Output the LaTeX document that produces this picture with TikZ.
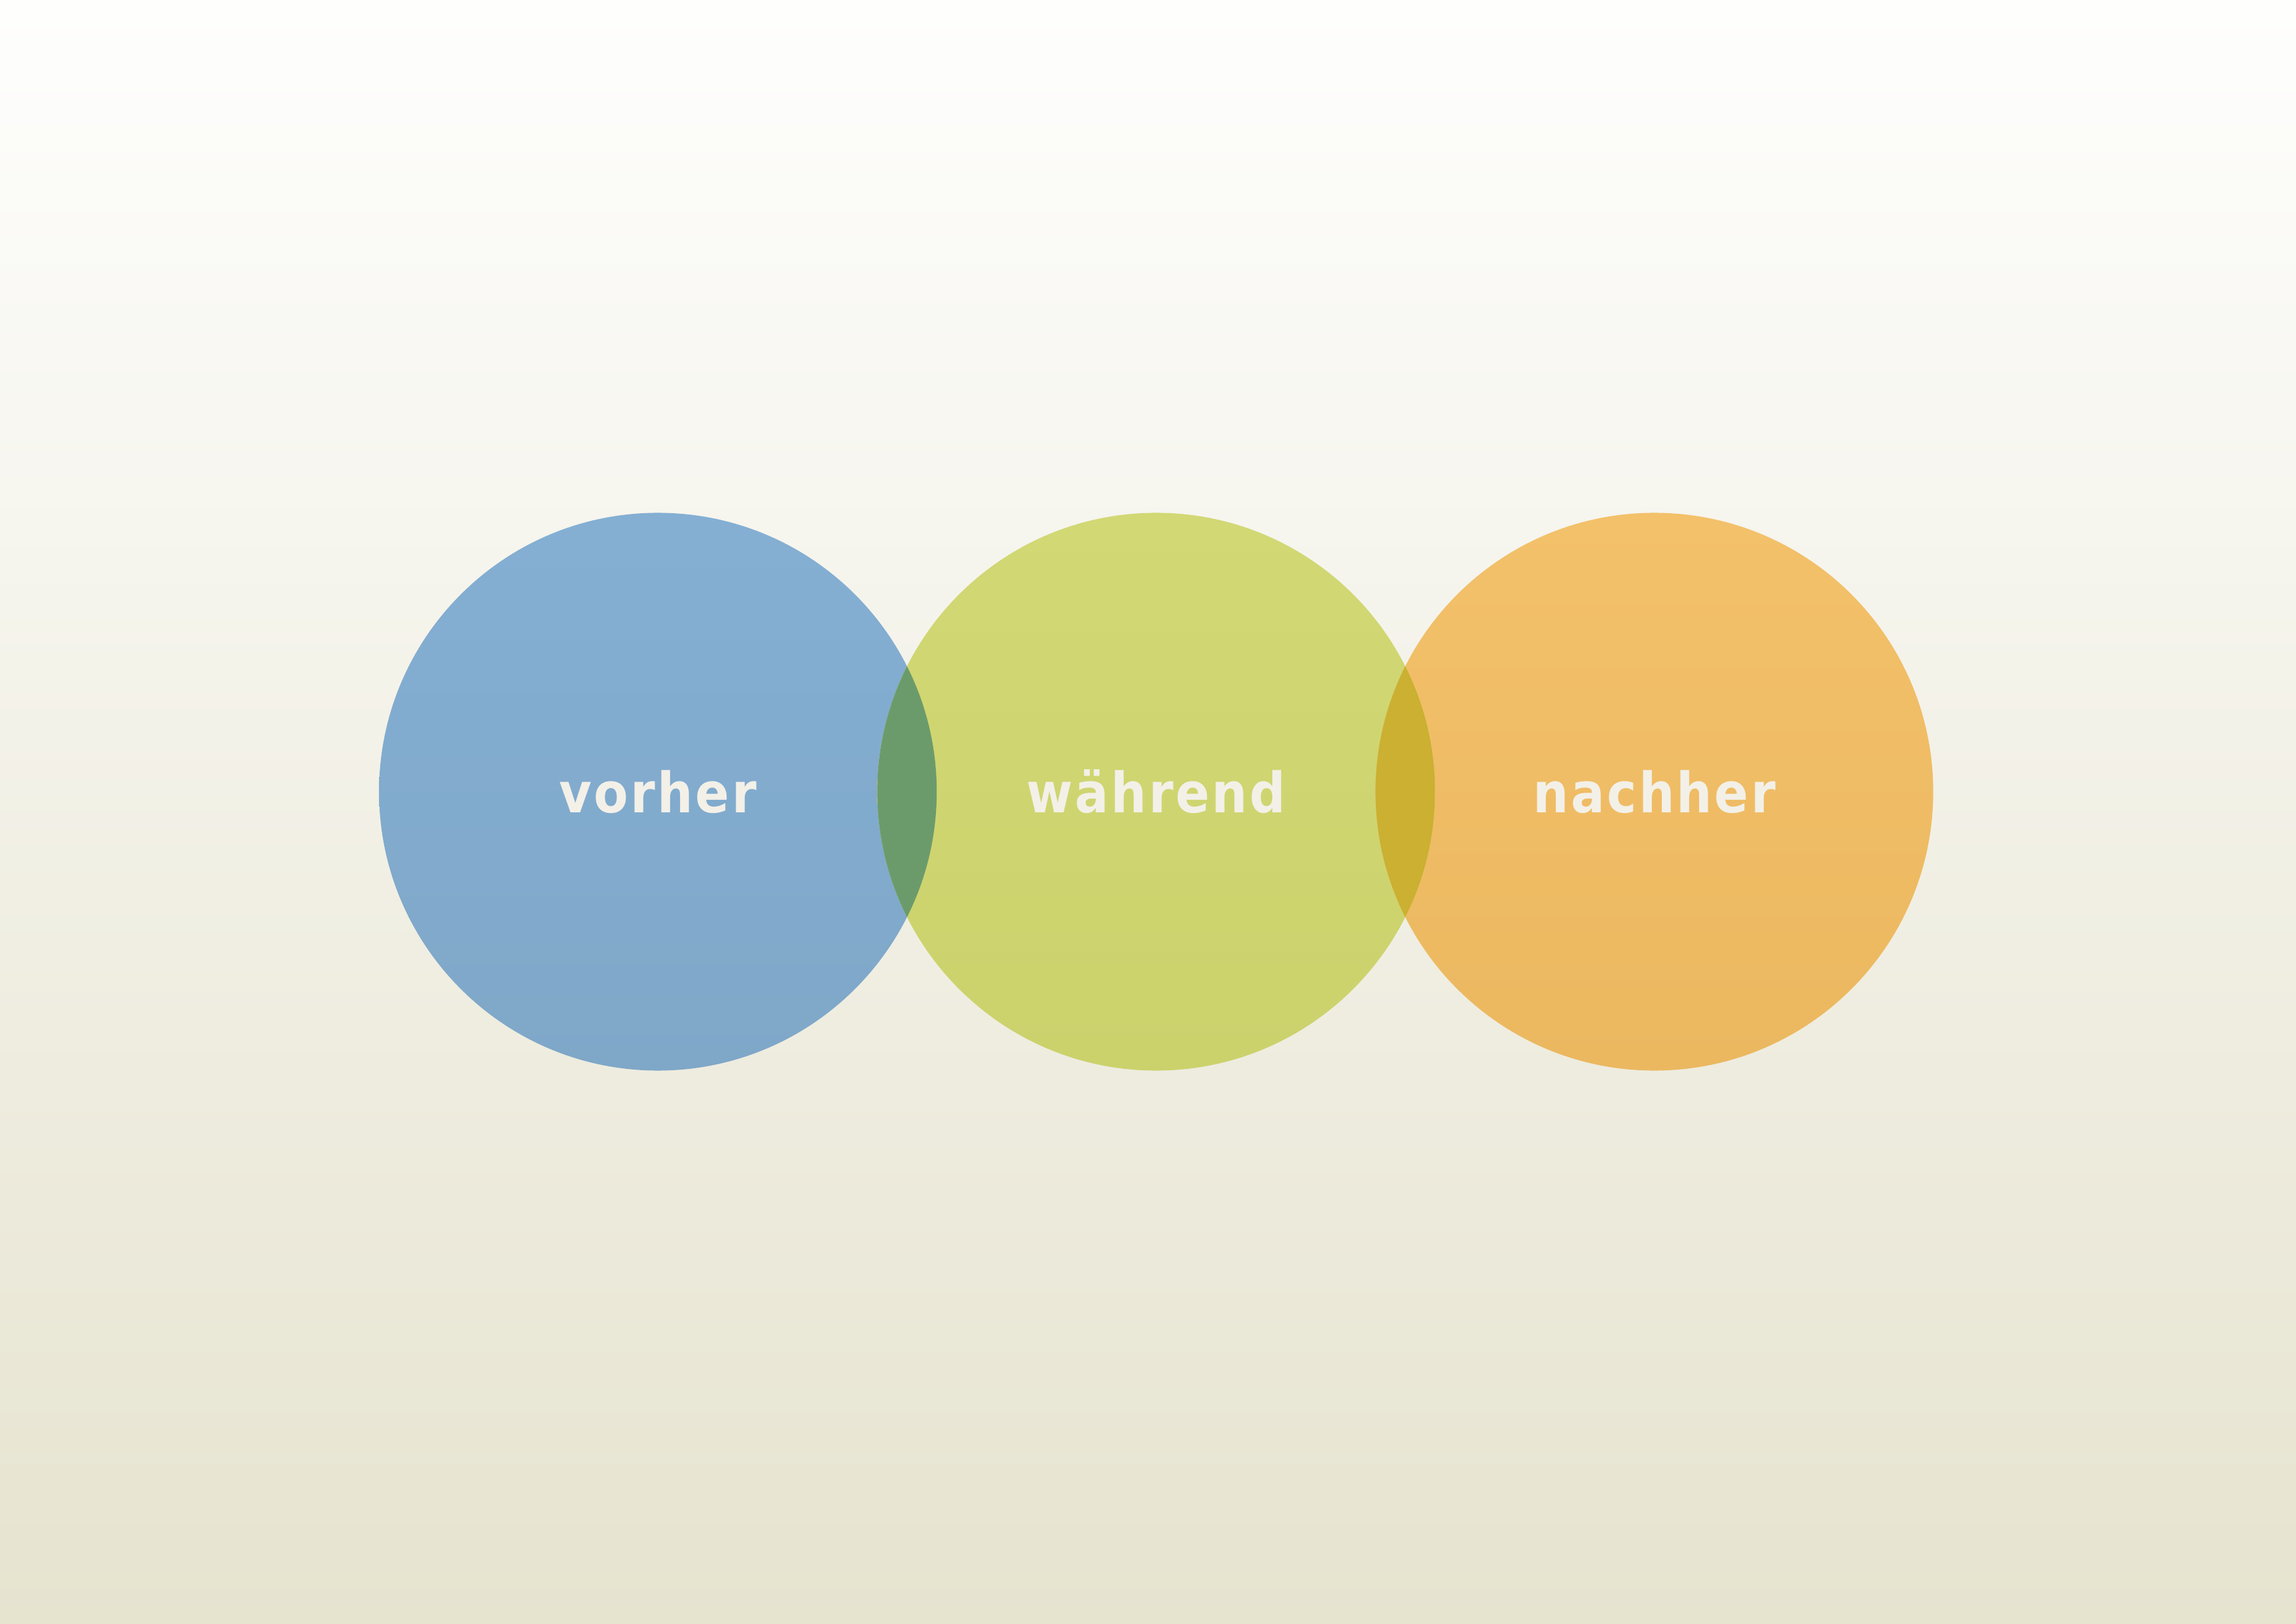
\documentclass[tikz,border=0pt]{standalone}
\usepackage{fontspec}
\usepackage{tikz}
\usetikzlibrary{positioning}
\newfontfamily\bubblefont[LetterSpace=4]{DejaVu Sans Condensed}
\definecolor{bgtop}{RGB}{254,254,253}
\definecolor{bgbottom}{RGB}{230,227,207}
\definecolor{bluetop}{RGB}{132,175,211}
\definecolor{bluebottom}{RGB}{127,167,200}
\definecolor{greentop}{RGB}{210,216,116}
\definecolor{greenbottom}{RGB}{203,210,108}
\definecolor{orangetop}{RGB}{243,193,106}
\definecolor{orangebottom}{RGB}{235,184,96}
\definecolor{bluegreen}{RGB}{108,155,107}
\definecolor{greenorange}{RGB}{203,176,50}
\definecolor{labeltext}{RGB}{243,240,232}
\tikzset{
  bubble/.style={circle, minimum size=7.214cm, inner sep=0pt, text=labeltext,
    font=\bubblefont\bfseries\fontsize{20.5}{24}\selectfont}
}
\begin{document}
\begin{tikzpicture}[node distance=6.445cm,on grid]
            \shade[top color=bgtop, bottom color=bgbottom] (0,0) rectangle (29.7,21);
            \useasboundingbox (0,0) rectangle (29.7,21);
            \node[bubble, top color=bluetop, bottom color=bluebottom] (vorher) at (8.51,10.76) {vorher};
            \node[bubble, top color=greentop, bottom color=greenbottom] (waehrend) [right=of vorher] {während};
            \node[bubble, top color=orangetop, bottom color=orangebottom] (nachher) [right=of waehrend] {nachher};
            % overlaps
            \begin{scope}
                \clip (vorher.center) circle (3.607cm);
                \fill[bluegreen] (waehrend.center) circle (3.607cm);
            \end{scope}
            \begin{scope}
                \clip (waehrend.center) circle (3.607cm);
                \fill[greenorange] (nachher.center) circle (3.607cm);
            \end{scope}
        \end{tikzpicture}
\end{document}
